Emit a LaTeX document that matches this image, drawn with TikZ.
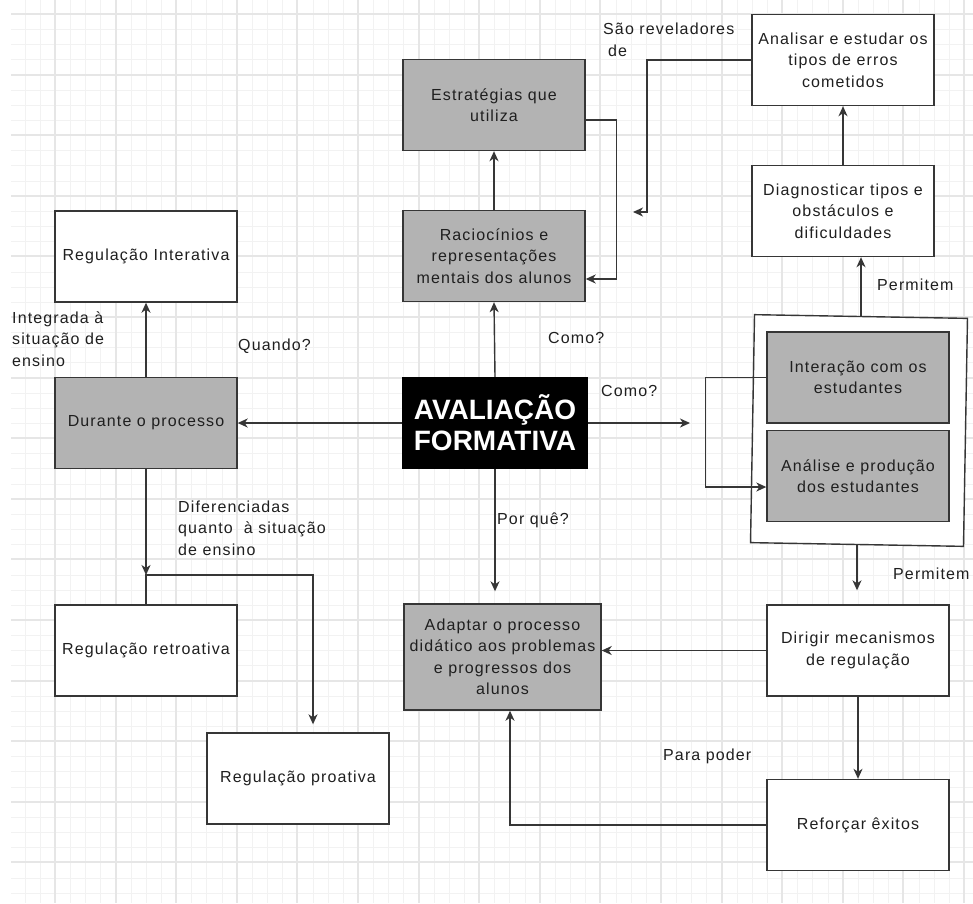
\documentclass[tikz,border=0pt]{standalone}
\usepackage{fontspec}
\setmainfont{Liberation Sans}
\newfontfamily\labfont[LetterSpace=7]{Liberation Sans}
\usetikzlibrary{arrows.meta}
\definecolor{gridmaj}{HTML}{E6E6E6}
\definecolor{gridmin}{HTML}{F2F2F2}
\definecolor{boxgray}{HTML}{B3B3B3}
\definecolor{edge}{HTML}{363636}
\definecolor{ink}{HTML}{1F1F1F}
\newcommand{\labsize}{\labfont\fontsize{16}{21.5}\selectfont}
\newcommand{\titlesize}{\bfseries\fontsize{28}{31}\selectfont}

\begin{document}
\begin{tikzpicture}[x=1pt,y=-1pt,
  box/.style={draw=edge, line width=1.4pt, fill=white, minimum width=182pt,
    minimum height=91pt, inner sep=0pt, align=center, font=\labsize, text=ink},
  greybox/.style={box, fill=boxgray},
  lbl/.style={font=\labsize, text=ink, inner sep=0pt, anchor=west, align=left},
  arr/.style={draw=edge, line width=1.4pt, -{Stealth[length=10pt,width=9pt,inset=3pt]}},
  ]
% page and background grid (snapped to whole points so every line looks alike)
\useasboundingbox (0,0) rectangle (973,903);
\fill[white] (0,0) rectangle (973,903);
\begin{scope}
  \clip (11,0) rectangle (973,903);
  \foreach \i in {-3,...,61}
    \draw[gridmin, line width=1pt] ({round(55+15.15*\i)+0.5},0) -- ({round(55+15.15*\i)+0.5},903);
  \foreach \j in {0,...,60}
    \draw[gridmin, line width=1pt] (11,{round(14+15.15*\j)+0.5}) -- (973,{round(14+15.15*\j)+0.5});
  \foreach \i in {0,...,15}
    \draw[gridmaj, line width=2pt] ({round(55+60.6*\i)},0) -- ({round(55+60.6*\i)},903);
  \foreach \j in {0,...,15}
    \draw[gridmaj, line width=2pt] (11,{round(14+60.6*\j)}) -- (973,{round(14+60.6*\j)});
\end{scope}

% central node
\node[box, fill=black, draw=black, minimum width=184pt, text=white, font=\titlesize]
  (aval) at (495,423) {AVALIAÇÃO\\FORMATIVA};

% upper branch
\node[greybox] (racio) at (494,256) {Raciocínios e\\representações\\mentais dos alunos};
\node[greybox] (estrat) at (494,105) {Estratégias que\\utiliza};

% left branch
\node[greybox] (durante) at (146,423) {Durante o processo};
\node[box] (regint) at (146,256.5) {Regulação Interativa};
\node[box] (retro) at (146,650.5) {Regulação retroativa};
\node[box] (proat) at (298,778.5) {Regulação proativa};

% lower branch
\node[greybox, minimum width=197pt, minimum height=106pt] (adaptar) at (502.5,657)
  {Adaptar o processo\\didático aos problemas\\e progressos dos\\alunos};

% right branch
\node[box, minimum width=213pt, minimum height=228pt, rotate=-1] (grupo) at (859,430.5) {};
\node[greybox] (interacao) at (858,377.5) {Interação com os\\estudantes};
\node[greybox] (analise) at (858,476) {Análise e produção\\dos estudantes};
\node[box] (diag) at (843,211) {Diagnosticar tipos e\\obstáculos e\\dificuldades};
\node[box] (analisar) at (843,60) {Analisar e estudar os\\tipos de erros\\cometidos};
\node[box] (dirigir) at (858,650.5) {Dirigir mecanismos\\de regulação};
\node[box] (reforcar) at (858,825) {Reforçar êxitos};

% free ends and bends
\coordinate (revcorner) at (647,212);
\coordinate (revend) at (633,212);
\coordinate (comoend) at (690,423);
\coordinate (junc) at (146,575);

% connectors
\draw[arr] (racio.north) -- (estrat.south);
\draw[arr] ([yshift=-15pt]estrat.east) -| ([xshift=31pt,yshift=-23pt]racio.east)
  -- ([yshift=-23pt]racio.east);
\draw[arr] (analisar.west) -| (revcorner) -- (revend);
\draw[arr] (diag.north) -- (analisar.south);
\draw[arr] (grupo.north) -- (grupo.north |- diag.south);
\draw[arr] (aval.north) -- (racio.south);
\draw[arr] (aval.west) -- (durante.east);
\draw[arr] (aval.east) -- (comoend);
\draw[arr, shorten >=12pt] (aval.south) -- (aval.south |- adaptar.north);
\draw[arr] (durante.north) -- (regint.south);
\draw[arr] (durante.south) -- (junc);
\draw[arr] (retro.north) -- (junc) -| ([xshift=15pt,yshift=8pt]proat.north);
\draw[arr] (interacao.west) -| ([xshift=-61pt,yshift=-11pt]analise.west)
  -- ([yshift=-11pt]analise.west);
\draw[arr, shorten >=14pt] (grupo.south) -- (grupo.south |- dirigir.north);
\draw[arr] (dirigir.west) -- (dirigir.west -| adaptar.east);
\draw[arr] (dirigir.south) -- (reforcar.north);
\draw[arr] (reforcar.west) -| ([xshift=7.5pt]adaptar.south);

% connector labels
\node[lbl] (lrev) at (603,40) {São reveladores\\\hspace{5pt}de};
\node[lbl] (lint) at (12,339) {Integrada à\\situação de\\ensino};
\node[lbl] (lquando) at (238,346) {Quando?};
\node[lbl] (lcomo1) at (548,338) {Como?};
\node[lbl] (lcomo2) at (601,391) {Como?};
\node[lbl] (lporque) at (497,520) {Por quê?};
\node[lbl] (ldif) at (178,528) {Diferenciadas\\quanto\ \ à situação\\de ensino};
\node[lbl] (lperm1) at (877,285) {Permitem};
\node[lbl] (lperm2) at (893,574) {Permitem};
\node[lbl] (lpara) at (663,756) {Para poder};
\end{tikzpicture}
\end{document}
